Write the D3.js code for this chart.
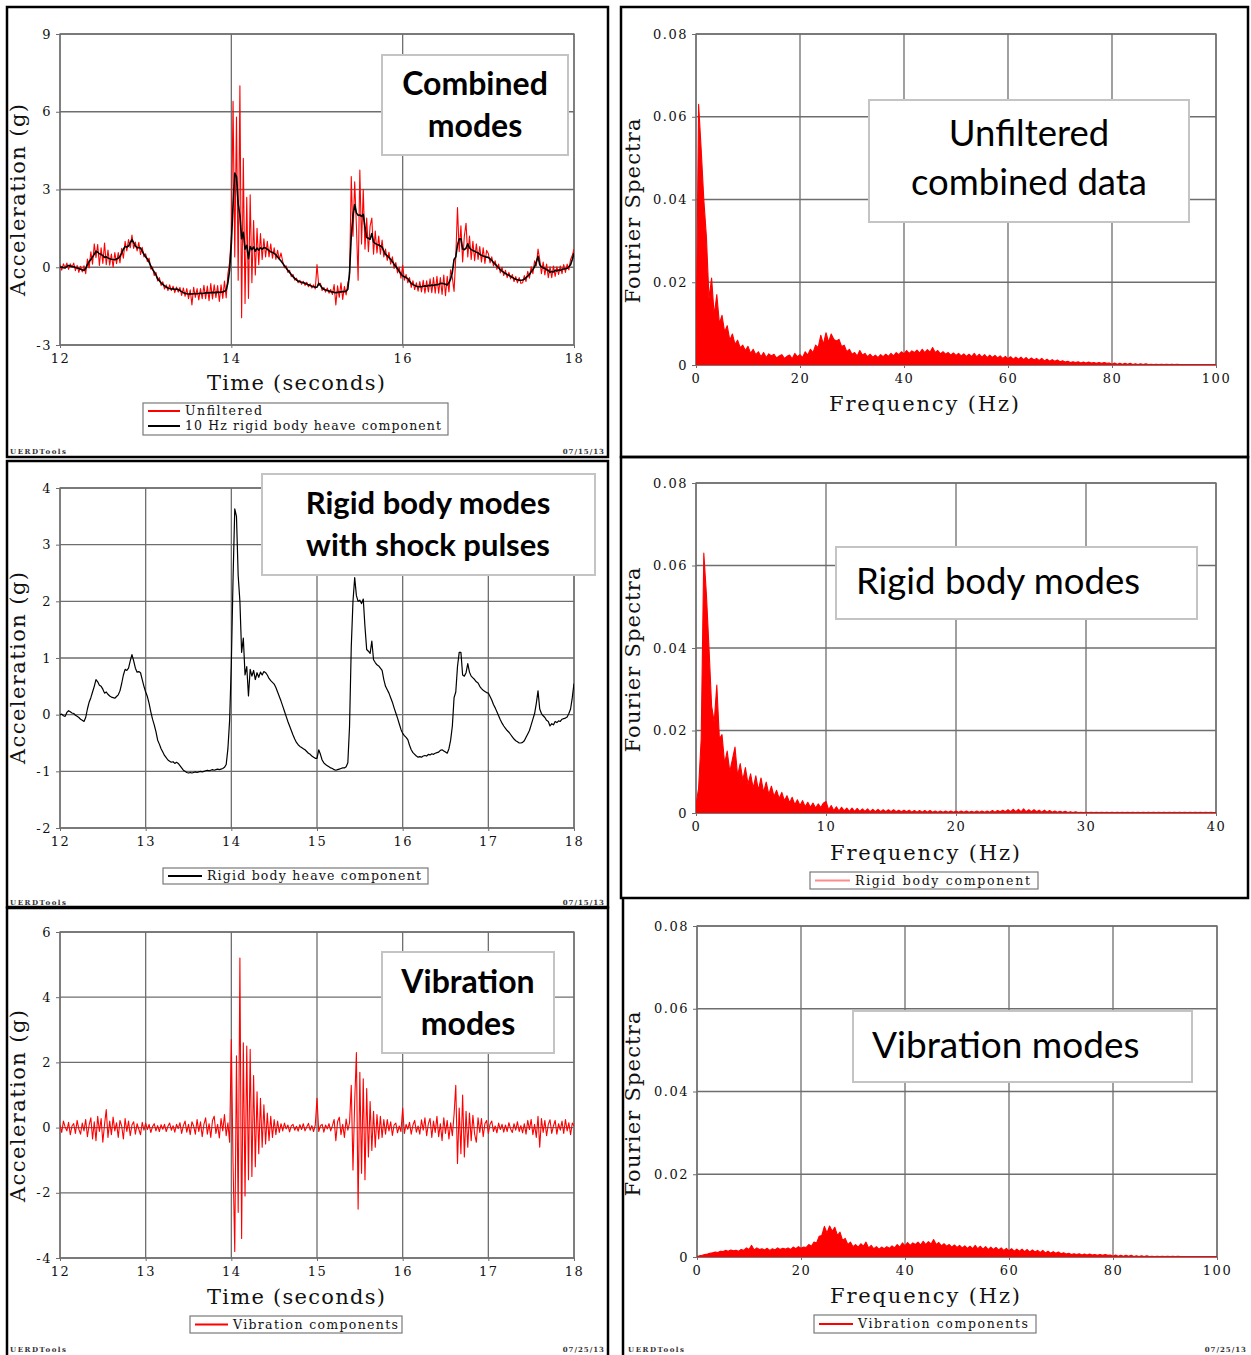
<!DOCTYPE html>
<html>
<head>
<meta charset="utf-8">
<script src="https://cdn.jsdelivr.net/npm/d3@7"></script>
<style>
  body { margin: 0; background: #fff; }
  svg { display: block; }
</style>
</head>
<body>
<svg id="chart" width="1251" height="1355"></svg>
<script>
// ---- time histories, one sample every 0.02 s from 12 s ----
var timeStart = 12, timeStep = 0.02;

var rigidAccel = [
  0.00,0.01,-0.02,-0.03,0.04,0.07,0.05,0.03,0.02,-0.01,
  -0.03,-0.05,-0.08,-0.10,-0.12,-0.05,0.10,0.22,0.30,0.40,
  0.50,0.62,0.58,0.52,0.50,0.45,0.38,0.40,0.36,0.33,
  0.31,0.30,0.29,0.32,0.35,0.42,0.55,0.70,0.80,0.78,
  0.82,0.95,1.06,0.95,0.82,0.75,0.76,0.74,0.62,0.50,
  0.40,0.32,0.20,0.05,-0.08,-0.18,-0.30,-0.45,-0.52,-0.60,
  -0.66,-0.72,-0.76,-0.80,-0.82,-0.84,-0.83,-0.86,-0.84,-0.86,
  -0.90,-0.94,-0.98,-1.00,-1.02,-1.03,-1.02,-1.03,-1.02,-1.01,
  -1.02,-1.01,-1.00,-1.01,-1.00,-0.99,-0.98,-0.99,-0.98,-0.97,
  -0.98,-0.97,-0.96,-0.97,-0.96,-0.95,-0.93,-0.88,-0.60,-0.10,
  0.90,2.40,3.63,3.50,2.45,2.00,1.10,1.35,0.70,0.85,
  0.33,0.80,0.68,0.78,0.62,0.74,0.66,0.75,0.70,0.76,
  0.74,0.70,0.64,0.60,0.57,0.54,0.48,0.40,0.32,0.24,
  0.15,0.06,-0.03,-0.12,-0.20,-0.28,-0.36,-0.43,-0.49,-0.53,
  -0.56,-0.58,-0.60,-0.62,-0.65,-0.68,-0.70,-0.73,-0.75,-0.77,
  -0.77,-0.62,-0.70,-0.80,-0.85,-0.88,-0.90,-0.92,-0.94,-0.95,
  -0.97,-0.98,-0.97,-0.96,-0.95,-0.94,-0.94,-0.92,-0.85,-0.20,
  1.20,2.00,2.42,2.10,2.00,2.02,1.96,2.04,1.55,1.15,
  1.12,1.08,1.30,0.97,0.92,0.88,0.86,0.82,0.78,0.62,
  0.50,0.44,0.38,0.30,0.22,0.12,0.03,-0.06,-0.16,-0.26,
  -0.33,-0.37,-0.40,-0.44,-0.54,-0.62,-0.67,-0.70,-0.73,-0.75,
  -0.74,-0.75,-0.73,-0.72,-0.73,-0.70,-0.71,-0.69,-0.70,-0.68,
  -0.67,-0.66,-0.63,-0.62,-0.64,-0.66,-0.68,-0.60,-0.45,-0.20,
  0.30,0.40,0.85,1.10,1.10,0.70,0.68,0.74,0.90,0.75,
  0.68,0.65,0.62,0.58,0.56,0.50,0.46,0.43,0.41,0.39,
  0.38,0.32,0.26,0.18,0.12,0.05,-0.02,-0.09,-0.15,-0.20,
  -0.24,-0.28,-0.31,-0.35,-0.39,-0.43,-0.46,-0.48,-0.50,-0.50,
  -0.49,-0.46,-0.40,-0.34,-0.28,-0.18,-0.08,0.02,0.20,0.42,
  0.10,0.02,-0.02,-0.05,-0.10,-0.12,-0.20,-0.16,-0.18,-0.12,
  -0.14,-0.11,-0.12,-0.08,-0.07,-0.06,-0.04,0.02,0.10,0.30,0.55
];

var unfilteredAccel = [
  0.10,-0.11,0.13,-0.02,0.16,-0.08,0.13,0.00,0.16,-0.13,
  0.07,-0.20,0.04,-0.18,0.06,-0.25,0.32,-0.03,0.60,0.12,
  0.90,0.37,0.88,0.07,0.75,0.15,0.93,0.10,0.66,0.08,
  0.51,0.00,0.57,0.14,0.57,0.17,0.73,0.35,1.00,0.63,
  1.07,0.75,1.24,0.73,0.97,0.63,0.96,0.49,0.77,0.40,
  0.52,0.22,0.35,-0.07,0.00,-0.32,-0.20,-0.53,-0.40,-0.70,
  -0.56,-0.84,-0.68,-0.90,-0.68,-0.90,-0.73,-0.98,-0.76,-0.96,
  -0.78,-1.09,-0.80,-1.12,-0.82,-1.21,-0.87,-1.45,-0.77,-1.16,
  -0.82,-1.26,-0.82,-1.21,-0.70,-1.21,-0.73,-1.29,-0.63,-1.22,
  -0.68,-1.17,-0.71,-1.32,-0.68,-1.20,-0.53,-1.18,-0.25,0.20,
  1.20,6.40,0.40,5.80,-0.50,7.00,-1.95,4.20,-1.40,2.70,
  -1.20,2.80,-0.60,1.80,-0.30,1.50,0.10,1.30,0.30,1.10,
  0.40,1.00,0.40,0.90,0.35,0.75,0.30,0.65,0.30,0.55,
  0.22,-0.02,0.05,-0.20,-0.12,-0.36,-0.28,-0.50,-0.42,-0.60,
  -0.50,-0.66,-0.54,-0.70,-0.58,-0.75,-0.64,-0.80,-0.68,-0.84,
  0.10,-0.70,-0.62,-0.90,-0.78,-0.96,-0.80,-1.00,-0.86,-1.05,
  -0.67,-1.45,-0.72,-1.16,-0.60,-1.24,-0.74,-1.07,-0.60,-0.40,
  3.50,1.20,3.30,1.60,-0.50,3.75,0.90,3.00,0.70,1.90,
  0.60,1.60,1.90,0.50,1.40,0.55,1.20,0.50,1.05,0.40,
  0.70,0.26,0.58,0.12,0.40,-0.05,0.18,-0.22,0.00,-0.42,
  0.08,-0.50,-0.28,-0.60,-0.40,-0.78,-0.52,-0.86,-0.60,-0.92,
  -0.55,-0.95,-0.50,-1.00,-0.52,-0.95,-0.45,-0.98,-0.40,-1.00,
  -0.35,-1.00,-0.40,-1.05,-0.30,-1.10,-0.35,-0.95,-0.10,-0.40,
  -0.93,0.40,2.30,0.60,1.60,0.20,1.20,1.70,0.40,1.20,
  0.30,1.00,0.25,0.90,0.30,0.80,0.20,0.75,0.15,0.65,
  0.53,0.17,0.40,0.05,0.25,-0.08,0.12,-0.22,0.00,-0.32,
  -0.12,-0.40,-0.20,-0.45,-0.28,-0.55,-0.36,-0.60,-0.40,-0.62,
  -0.60,-0.32,-0.55,-0.16,-0.42,0.02,-0.25,0.25,0.05,0.70,
  0.30,-0.25,0.20,-0.30,0.12,-0.40,0.02,-0.40,0.05,-0.35,
  0.02,-0.28,0.05,-0.25,0.10,-0.20,0.12,-0.10,0.30,0.45,0.70
];

var vibrationAccel = [
  0.08,-0.15,0.20,0.02,-0.10,0.16,-0.22,0.05,0.12,-0.18,
  0.22,-0.05,-0.20,0.14,-0.10,0.25,-0.28,0.08,0.30,-0.35,
  0.18,-0.40,0.35,-0.12,0.28,-0.45,0.10,0.55,-0.30,0.20,
  -0.22,0.32,-0.10,0.15,-0.30,0.22,0.05,-0.35,0.28,-0.12,
  0.20,-0.25,0.08,0.18,-0.20,0.12,-0.05,-0.22,0.16,-0.08,
  0.14,-0.06,0.10,-0.15,0.03,0.12,-0.10,0.06,-0.12,0.09,
  -0.05,0.10,-0.12,0.04,0.14,-0.08,0.06,-0.14,0.10,-0.03,
  0.15,-0.18,0.06,0.20,-0.14,0.10,-0.22,0.18,0.05,-0.20,
  0.25,-0.12,0.18,-0.28,0.10,0.30,-0.20,0.12,-0.30,0.22,
  0.35,-0.18,0.10,-0.32,0.28,-0.10,0.40,-0.25,0.15,-0.45,
  2.70,-1.10,-3.80,2.20,-2.60,5.20,-3.40,2.60,-2.10,2.50,
  -1.60,2.40,-1.50,1.60,-1.20,1.10,-0.80,0.90,-0.60,0.70,
  -0.50,0.45,-0.40,0.35,-0.30,0.25,-0.22,0.20,-0.15,0.12,
  -0.10,0.14,-0.04,0.08,-0.13,0.05,0.10,-0.08,0.04,-0.11,
  0.09,-0.06,0.12,-0.10,0.02,0.13,-0.08,0.06,-0.12,0.08,
  0.90,-0.12,0.05,0.10,-0.14,0.08,-0.04,0.12,-0.10,0.06,
  0.25,-0.40,0.18,0.32,-0.22,0.10,-0.30,0.26,-0.08,0.15,
  1.30,-1.30,0.80,2.30,-2.50,1.70,-1.40,1.50,-1.60,1.20,
  -0.90,0.80,-0.70,0.50,-0.60,0.40,-0.35,0.35,-0.30,0.25,
  -0.20,0.25,-0.10,0.18,-0.24,0.08,0.14,-0.16,0.05,-0.12,
  0.60,-0.18,0.10,-0.05,0.16,-0.20,0.08,0.22,-0.14,0.05,
  -0.20,0.24,-0.08,0.30,-0.25,0.12,0.28,-0.30,0.20,-0.15,
  0.35,-0.28,0.12,-0.40,0.30,-0.18,0.22,-0.35,0.15,-0.25,
  0.40,1.30,-1.10,0.60,-0.80,1.00,-0.90,0.50,-0.60,0.45,
  -0.40,0.38,-0.20,-0.45,0.30,-0.15,0.28,-0.28,0.12,0.22,
  -0.18,0.10,0.20,-0.12,0.05,-0.16,0.14,-0.06,0.10,-0.14,
  0.08,-0.12,0.15,-0.04,-0.15,0.12,-0.08,0.18,-0.12,0.06,
  -0.16,0.12,-0.20,0.22,-0.06,0.25,-0.22,0.10,-0.30,0.35,
  -0.60,0.28,-0.15,0.22,-0.25,0.10,0.24,-0.18,0.05,0.22,
  -0.20,0.12,-0.08,0.20,-0.18,0.25,-0.10,0.15,-0.22,0.14,0.05
];

// ---- Fourier spectra (bin width in Hz given by the *Step value) ----
var unfilteredSpectrumStep = 0.5;
var unfilteredSpectrum = [
  0.003,0.063,0.052,0.040,0.031,0.016,0.021,0.012,0.017,0.010,
  0.012,0.008,0.0095,0.006,0.0075,0.005,0.006,0.0042,0.0048,0.0035,
  0.0045,0.0028,0.0038,0.0025,0.0032,0.002,0.003,0.0018,0.0027,0.0022,
  0.0026,0.0017,0.0022,0.0025,0.0016,0.0021,0.0024,0.0015,0.0028,0.002,
  0.0025,0.0018,0.0032,0.0024,0.0038,0.003,0.0048,0.0042,0.0072,0.005,
  0.0078,0.0055,0.0075,0.0062,0.0058,0.0062,0.0045,0.0048,0.0032,0.0038,
  0.0026,0.003,0.0022,0.0035,0.0024,0.0028,0.002,0.0026,0.0019,0.0024,
  0.0018,0.0025,0.002,0.0026,0.0021,0.0028,0.0022,0.003,0.0025,0.0032,
  0.0027,0.0035,0.0028,0.0034,0.003,0.0036,0.0029,0.0038,0.003,0.0037,
  0.0031,0.0042,0.003,0.0035,0.0027,0.0032,0.0026,0.003,0.0024,0.0029,
  0.0023,0.0028,0.0022,0.0027,0.0021,0.0026,0.002,0.0028,0.002,0.0026,
  0.0019,0.0025,0.0018,0.0024,0.0018,0.0023,0.0017,0.0022,0.0016,0.0021,
  0.0015,0.002,0.0014,0.0019,0.0014,0.0019,0.0013,0.0018,0.0012,0.0017,
  0.0012,0.0016,0.0011,0.0016,0.001,0.0014,0.0009,0.0013,0.0009,0.0012,
  0.0008,0.001,0.0007,0.0009,0.0006,0.0008,0.0006,0.0008,0.0005,0.0007,
  0.0005,0.0007,0.0005,0.0006,0.0004,0.0006,0.0004,0.0006,0.0004,0.0005,
  0.0002,0.0005,0.0002,0.0004,0.0002,0.0004,0.0002,0.0004,0.0001,0.0003,
  0.0001,0.0003,0.0001,0.0003,0.0001,0.0002,0.0001,0.0002,0.0001,0.0002,
  0.0001,0.0002,0.0001,0.0002,0.0001,0.0002,0.0001,0.0001,0.0001,0.0001,
  0.0001,0.0001,0.0001,0.0001,0.0001,0.0001,0.0001,0.0001,0.0001,0.0001,
  0.0001
];

var rigidSpectrumStep = 0.2;
var rigidSpectrum = [
  0.002,0.006,0.018,0.063,0.053,0.040,0.026,0.022,0.031,0.018,
  0.019,0.012,0.015,0.010,0.013,0.016,0.009,0.012,0.008,0.011,
  0.007,0.0095,0.006,0.009,0.0055,0.0085,0.005,0.0075,0.0045,0.0065,
  0.004,0.0055,0.0035,0.005,0.003,0.0042,0.0025,0.0038,0.002,0.0032,
  0.0018,0.003,0.0015,0.0026,0.0014,0.0024,0.0012,0.0022,0.0013,0.0024,
  0.0028,0.0008,0.0018,0.0006,0.0015,0.0005,0.0014,0.0005,0.0012,0.0004,
  0.0012,0.0004,0.0011,0.0004,0.001,0.0004,0.001,0.0003,0.0009,0.0003,
  0.0009,0.0003,0.0008,0.0003,0.0008,0.0003,0.0008,0.0003,0.0007,0.0003,
  0.0007,0.0003,0.0007,0.0002,0.0006,0.0002,0.0006,0.0002,0.0006,0.0002,
  0.0006,0.0002,0.0005,0.0002,0.0005,0.0002,0.0005,0.0002,0.0005,0.0002,
  0.0005,0.0002,0.0005,0.0002,0.0005,0.0002,0.0004,0.0002,0.0005,0.0002,
  0.0005,0.0002,0.0005,0.0002,0.0006,0.0002,0.0006,0.0003,0.0007,0.0003,
  0.0008,0.0003,0.0009,0.0003,0.0009,0.0003,0.0010,0.0003,0.0008,0.0003,
  0.0008,0.0003,0.0007,0.0002,0.0007,0.0002,0.0006,0.0002,0.0005,0.0002,
  0.0004,0.0002,0.0004,0.0001,0.0003,0.0001,0.0003,0.0001,0.0002,0.0001,
  0.0002,0.0001,0.0002,0.0001,0.0002,0.0001,0.0002,0.0001,0.0002,0.0001,
  0.0002,0.0001,0.0002,0.0001,0.0002,0.0001,0.0002,0.0001,0.0002,0.0001,
  0.0002,0.0001,0.0002,0.0001,0.0002,0.0001,0.0002,0.0001,0.0002,0.0001,
  0.0002,0.0001,0.0002,0.0001,0.0002,0.0001,0.0002,0.0001,0.0002,0.0001,
  0.0002,0.0001,0.0002,0.0001,0.0002,0.0001,0.0002,0.0001,0.0002,0.0001,
  0.0001
];

var vibrationSpectrumStep = 0.5;
var vibrationSpectrum = [
  0.0001,0.0003,0.0004,0.0006,0.0007,0.0009,0.001,0.0012,0.0011,0.0014,
  0.0013,0.0016,0.0014,0.0017,0.0015,0.0016,0.0014,0.0018,0.0016,0.0022,
  0.0018,0.0028,0.0017,0.0022,0.0018,0.002,0.0017,0.0021,0.0016,0.002,
  0.0017,0.0022,0.0018,0.0021,0.0019,0.0022,0.0018,0.0024,0.002,0.0025,
  0.0021,0.0024,0.0023,0.003,0.0026,0.0036,0.0034,0.005,0.0052,0.0074,
  0.0058,0.0075,0.0062,0.0072,0.0052,0.006,0.004,0.0045,0.003,0.0036,
  0.0025,0.003,0.0024,0.0032,0.0026,0.0036,0.0022,0.0028,0.002,0.0025,
  0.0019,0.0024,0.002,0.0025,0.0021,0.0027,0.0022,0.003,0.0024,0.0034,
  0.0027,0.0035,0.0028,0.0034,0.003,0.0036,0.0029,0.0038,0.003,0.0037,
  0.0031,0.0042,0.003,0.0035,0.0027,0.0032,0.0026,0.003,0.0024,0.0029,
  0.0023,0.0028,0.0022,0.0027,0.0021,0.0026,0.002,0.0028,0.002,0.0026,
  0.0019,0.0025,0.0018,0.0024,0.0018,0.0023,0.0017,0.0022,0.0016,0.0021,
  0.0015,0.002,0.0014,0.0019,0.0014,0.0019,0.0013,0.0018,0.0012,0.0017,
  0.0012,0.0016,0.0011,0.0016,0.001,0.0014,0.0009,0.0013,0.0009,0.0012,
  0.0008,0.001,0.0007,0.0009,0.0006,0.0008,0.0006,0.0008,0.0005,0.0007,
  0.0005,0.0007,0.0005,0.0006,0.0004,0.0006,0.0004,0.0006,0.0004,0.0005,
  0.0002,0.0005,0.0002,0.0004,0.0002,0.0004,0.0002,0.0004,0.0001,0.0003,
  0.0001,0.0003,0.0001,0.0003,0.0001,0.0002,0.0001,0.0002,0.0001,0.0002,
  0.0001,0.0002,0.0001,0.0002,0.0001,0.0002,0.0001,0.0001,0.0001,0.0001,
  0.0001,0.0001,0.0001,0.0001,0.0001,0.0001,0.0001,0.0001,0.0001,0.0001,
  0.0001
];

// ---- ticks ----
var timeTicksCoarse = [12, 14, 16, 18];
var timeTicks = [12, 13, 14, 15, 16, 17, 18];
var accelTicksCombined = [-3, 0, 3, 6, 9];
var accelTicksRigid = [-2, -1, 0, 1, 2, 3, 4];
var accelTicksVibration = [-4, -2, 0, 2, 4, 6];
var freqTicks100 = [0, 20, 40, 60, 80, 100];
var freqTicks40 = [0, 10, 20, 30, 40];
var spectraTicks = [0, 0.02, 0.04, 0.06, 0.08];

var serif = '"DejaVu Serif", "Liberation Serif", serif';
var sans = 'Lato, "Open Sans", sans-serif';
var gridColor = "#6e6e6e";
var red = "#ff0000";

var svg = d3.select("#chart");
svg.append("rect").attr("width", 1251).attr("height", 1355).attr("fill", "#fff");

function asTime(values) {
  return values.map(function(v, i) { return {x: timeStart + i * timeStep, y: v}; });
}
function asSpectrum(values, step) {
  return values.map(function(v, i) { return {x: i * step, y: v}; });
}
var intLabel = function(d) { return String(d); };
var specLabel = function(d) { return d === 0 ? "0" : d.toFixed(2); };

function drawPanel(p) {
  var g = svg.append("g");
  var pl = p.plot;
  var x = d3.scaleLinear().domain(p.xDomain).range([pl.left, pl.right]);
  var y = d3.scaleLinear().domain(p.yDomain).range([pl.bottom, pl.top]);

  svg.append("clipPath").attr("id", "clip-" + p.id)
    .append("rect").attr("x", pl.left).attr("y", pl.top - 2)
    .attr("width", pl.right - pl.left).attr("height", pl.bottom - pl.top + 2);

  // grid + frame
  g.selectAll(".vg").data(p.xTicks).enter().append("line")
    .attr("x1", function(d) { return x(d); }).attr("x2", function(d) { return x(d); })
    .attr("y1", pl.top).attr("y2", pl.bottom)
    .attr("stroke", gridColor).attr("stroke-width", 1.3);
  g.selectAll(".hg").data(p.yTicks).enter().append("line")
    .attr("x1", pl.left).attr("x2", pl.right)
    .attr("y1", function(d) { return y(d); }).attr("y2", function(d) { return y(d); })
    .attr("stroke", gridColor).attr("stroke-width", 1.3);
  g.append("rect").attr("x", pl.left).attr("y", pl.top)
    .attr("width", pl.right - pl.left).attr("height", pl.bottom - pl.top)
    .attr("fill", "none").attr("stroke", gridColor).attr("stroke-width", 1.3);

  // axes
  var xa = g.append("g").attr("transform", "translate(0," + pl.bottom + ")")
    .call(d3.axisBottom(x).tickValues(p.xTicks).tickSize(3).tickPadding(6).tickFormat(intLabel));
  var ya = g.append("g").attr("transform", "translate(" + pl.left + ",0)")
    .call(d3.axisLeft(y).tickValues(p.yTicks).tickSize(4).tickPadding(4).tickFormat(p.yFormat));
  [xa, ya].forEach(function(a) {
    a.select(".domain").remove();
    a.selectAll(".tick line").attr("stroke", gridColor);
    a.selectAll(".tick text").attr("fill", "#111")
      .style("font-family", serif).style("font-size", "13px").style("letter-spacing", "1.5px");
  });

  // series
  p.series.forEach(function(s) {
    if (s.fill) {
      g.append("path").datum(s.points).attr("clip-path", "url(#clip-" + p.id + ")")
        .attr("d", d3.area().x(function(d) { return x(d.x); }).y0(y(0)).y1(function(d) { return y(d.y); }))
        .attr("fill", s.color);
    }
    g.append("path").datum(s.points).attr("clip-path", "url(#clip-" + p.id + ")")
      .attr("d", d3.line().x(function(d) { return x(d.x); }).y(function(d) { return y(d.y); }))
      .attr("fill", "none").attr("stroke", s.color).attr("stroke-width", s.width)
      .attr("stroke-linejoin", "round");
  });

  // axis titles
  if (p.xTitle) {
    g.append("text").attr("x", p.xTitle.x).attr("y", p.xTitle.y)
      .attr("text-anchor", "middle").attr("textLength", p.xTitle.len)
      .style("font-family", serif).style("font-size", "21px").attr("fill", "#111")
      .text(p.xTitle.text);
  }
  if (p.yTitle) {
    g.append("text").attr("transform", "translate(" + p.yTitle.x + "," + p.yTitle.y + ") rotate(-90)")
      .attr("text-anchor", "middle").attr("textLength", p.yTitle.len)
      .style("font-family", serif).style("font-size", "21px").attr("fill", "#111")
      .text(p.yTitle.text);
  }

  // title box
  var tb = p.titleBox;
  g.append("rect").attr("x", tb.x).attr("y", tb.y).attr("width", tb.w).attr("height", tb.h)
    .attr("fill", "#fff").attr("stroke", "#c4c4c4").attr("stroke-width", 2);
  tb.lines.forEach(function(line, i) {
    g.append("text").attr("x", tb.tx).attr("y", tb.ty + i * tb.dy)
      .attr("text-anchor", tb.anchor)
      .style("font-family", sans).style("font-size", tb.size + "px")
      .style("font-weight", tb.bold ? 700 : 400).attr("fill", "#000")
      .text(line);
  });

  // legend
  if (p.legend) {
    var lg = p.legend;
    g.append("rect").attr("x", lg.x).attr("y", lg.y).attr("width", lg.w).attr("height", lg.h)
      .attr("fill", "#fff").attr("stroke", "#7a7a7a").attr("stroke-width", 1.2);
    lg.items.forEach(function(it, i) {
      var yy = lg.y + lg.first + i * 15;
      g.append("line").attr("x1", lg.x + 5).attr("x2", lg.x + 5 + lg.sample)
        .attr("y1", yy).attr("y2", yy).attr("stroke", it.color).attr("stroke-width", 2);
      g.append("text").attr("x", lg.x + 10 + lg.sample).attr("y", yy + 4)
        .attr("textLength", it.len)
        .style("font-family", serif).style("font-size", "12.5px")
        .attr("fill", "#111").text(it.label);
    });
  }

  // footer
  if (p.footer) {
    var ft = p.footer;
    if (ft.left !== null) {
      g.append("text").attr("x", ft.left).attr("y", ft.y).attr("textLength", 56)
        .style("font-family", serif).style("font-size", "7px").style("font-weight", 700)
        .attr("fill", "#333").text("UERDTools");
    }
    g.append("text").attr("x", ft.right).attr("y", ft.y).attr("text-anchor", "end")
      .style("font-family", serif).style("font-size", "7px").style("font-weight", 700)
      .style("letter-spacing", "1px").attr("fill", "#333").text(ft.date);
  }
}

// outer frames
var frames = [
  {x: 7, y: 7, w: 601, h: 450},
  {x: 621, y: 7, w: 627, h: 450},
  {x: 7, y: 461, w: 601, h: 446},
  {x: 621, y: 457, w: 627, h: 441},
  {x: 7, y: 908, w: 601, h: 460}
];

var panels = [
  {
    id: "tl", plot: {left: 60, right: 574, top: 34, bottom: 345},
    xDomain: [12, 18], xTicks: timeTicksCoarse, yDomain: [-3, 9], yTicks: accelTicksCombined, yFormat: intLabel,
    series: [
      {points: asTime(unfilteredAccel), color: red, width: 1.1},
      {points: asTime(rigidAccel), color: "#000", width: 1.6}
    ],
    xTitle: {text: "Time (seconds)", x: 296, y: 390, len: 178},
    yTitle: {text: "Acceleration (g)", x: 25, y: 200, len: 192},
    titleBox: {x: 382, y: 55, w: 186, h: 100, lines: ["Combined", "modes"], tx: 475, ty: 95, dy: 42, anchor: "middle", size: 32, bold: true},
    legend: {x: 143, y: 403, w: 305, h: 32, first: 8, sample: 32, items: [
      {label: "Unfiltered", color: red, len: 77},
      {label: "10 Hz rigid body heave component", color: "#000", len: 256}
    ]},
    footer: {left: 10, right: 605, y: 454, date: "07/15/13"}
  },
  {
    id: "tr", plot: {left: 696, right: 1216, top: 34, bottom: 365},
    xDomain: [0, 100], xTicks: freqTicks100, yDomain: [0, 0.08], yTicks: spectraTicks, yFormat: specLabel,
    series: [{points: asSpectrum(unfilteredSpectrum, unfilteredSpectrumStep), color: red, width: 1.1, fill: true}],
    xTitle: {text: "Frequency (Hz)", x: 924, y: 411, len: 190},
    yTitle: {text: "Fourier Spectra", x: 640, y: 211, len: 185},
    titleBox: {x: 869, y: 100, w: 320, h: 122, lines: ["Unfiltered", "combined data"], tx: 1029, ty: 146, dy: 49, anchor: "middle", size: 36.5, bold: false}
  },
  {
    id: "ml", plot: {left: 60, right: 574, top: 488, bottom: 828},
    xDomain: [12, 18], xTicks: timeTicks, yDomain: [-2, 4], yTicks: accelTicksRigid, yFormat: intLabel,
    series: [{points: asTime(rigidAccel), color: "#000", width: 1.2}],
    yTitle: {text: "Acceleration (g)", x: 25, y: 668, len: 192},
    titleBox: {x: 262, y: 474, w: 333, h: 101, lines: ["Rigid body modes", "with shock pulses"], tx: 428, ty: 514, dy: 42, anchor: "middle", size: 31, bold: true},
    legend: {x: 163, y: 868, w: 265, h: 16, first: 8, sample: 34, items: [
      {label: "Rigid body heave component", color: "#000", len: 214}
    ]},
    footer: {left: 10, right: 605, y: 905, date: "07/15/13"}
  },
  {
    id: "mr", plot: {left: 696, right: 1216, top: 483, bottom: 813},
    xDomain: [0, 40], xTicks: freqTicks40, yDomain: [0, 0.08], yTicks: spectraTicks, yFormat: specLabel,
    series: [{points: asSpectrum(rigidSpectrum, rigidSpectrumStep), color: red, width: 1.1, fill: true}],
    xTitle: {text: "Frequency (Hz)", x: 925, y: 860, len: 190},
    yTitle: {text: "Fourier Spectra", x: 640, y: 660, len: 185},
    titleBox: {x: 836, y: 547, w: 361, h: 72, lines: ["Rigid body modes"], tx: 856, ty: 594, dy: 0, anchor: "start", size: 36.5, bold: false},
    legend: {x: 810, y: 872, w: 228, h: 17, first: 8.5, sample: 35, items: [
      {label: "Rigid body component", color: "#ff8c8c", len: 175}
    ]}
  },
  {
    id: "bl", plot: {left: 60, right: 574, top: 932, bottom: 1258},
    xDomain: [12, 18], xTicks: timeTicks, yDomain: [-4, 6], yTicks: accelTicksVibration, yFormat: intLabel,
    series: [{points: asTime(vibrationAccel), color: red, width: 1.1}],
    xTitle: {text: "Time (seconds)", x: 296, y: 1304, len: 178},
    yTitle: {text: "Acceleration (g)", x: 25, y: 1106, len: 192},
    titleBox: {x: 382, y: 952, w: 172, h: 101, lines: ["Vibration", "modes"], tx: 468, ty: 993, dy: 42, anchor: "middle", size: 32, bold: true},
    legend: {x: 190, y: 1316, w: 212, h: 17, first: 8.5, sample: 33, items: [
      {label: "Vibration components", color: red, len: 165}
    ]},
    footer: {left: 10, right: 605, y: 1352, date: "07/25/13"}
  },
  {
    id: "br", plot: {left: 697, right: 1217, top: 926, bottom: 1257},
    xDomain: [0, 100], xTicks: freqTicks100, yDomain: [0, 0.08], yTicks: spectraTicks, yFormat: specLabel,
    series: [{points: asSpectrum(vibrationSpectrum, vibrationSpectrumStep), color: red, width: 1.1, fill: true}],
    xTitle: {text: "Frequency (Hz)", x: 925, y: 1303, len: 190},
    yTitle: {text: "Fourier Spectra", x: 640, y: 1104, len: 185},
    titleBox: {x: 853, y: 1011, w: 339, h: 71, lines: ["Vibration modes"], tx: 872, ty: 1058, dy: 0, anchor: "start", size: 37, bold: false},
    legend: {x: 814, y: 1315, w: 222, h: 18, first: 9, sample: 34, items: [
      {label: "Vibration components", color: red, len: 170}
    ]},
    footer: {left: 628, right: 1247, y: 1352, date: "07/25/13"}
  }
];

panels.forEach(drawPanel);

svg.selectAll(".frame").data(frames).enter().append("rect")
  .attr("x", function(d) { return d.x; }).attr("y", function(d) { return d.y; })
  .attr("width", function(d) { return d.w; }).attr("height", function(d) { return d.h; })
  .attr("fill", "none").attr("stroke", "#000").attr("stroke-width", 2.5);
svg.append("line").attr("x1", 623).attr("x2", 623).attr("y1", 899).attr("y2", 1355)
  .attr("stroke", "#000").attr("stroke-width", 2.5);
</script>
</body>
</html>
